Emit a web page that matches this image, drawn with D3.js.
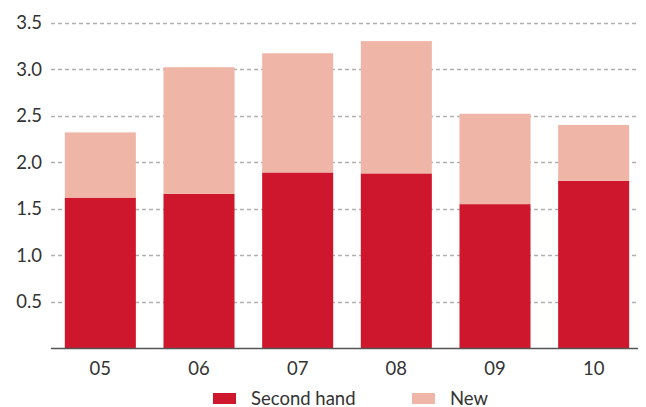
<!DOCTYPE html>
<html>
<head>
<meta charset="utf-8">
<script src="https://cdn.jsdelivr.net/npm/d3@7"></script>
<style>
  body { margin: 0; background: #fff; }
  svg text { font-family: "Lato", "DejaVu Sans", sans-serif; fill: #333; }
</style>
</head>
<body>
<script>
'use strict';

// chart data
const years = ["05", "06", "07", "08", "09", "10"];
const secondHand = [1.62, 1.66, 1.89, 1.88, 1.55, 1.80];
const newCars = [0.70, 1.36, 1.28, 1.42, 0.97, 0.60];
const yTicks = [0.5, 1.0, 1.5, 2.0, 2.5, 3.0, 3.5];
const seriesNames = ["Second hand", "New"];
const seriesColors = ["#ce172d", "#efb5a6"];

const width = 646, height = 407;

const svg = d3.select("body")
  .append("svg")
  .attr("width", width)
  .attr("height", height);

// scales
const x = d3.scaleBand()
  .domain(years)
  .range([51, 643])
  .paddingInner(0.28)
  .paddingOuter(0.14);

const y = d3.scaleLinear()
  .domain([0, 3.5])
  .range([348.5, 22.5]);

// dashed grid
svg.append("g")
  .selectAll("line")
  .data(yTicks)
  .enter()
  .append("line")
  .attr("x1", 51)
  .attr("x2", 638)
  .attr("y1", d => Math.round(y(d)) + 0.5)
  .attr("y2", d => Math.round(y(d)) + 0.5)
  .attr("stroke", "#b0b0b0")
  .attr("stroke-width", 1.3)
  .attr("stroke-dasharray", "4,3");

// y labels
svg.append("g")
  .selectAll("text")
  .data(yTicks)
  .enter()
  .append("text")
  .attr("x", 42)
  .attr("y", d => y(d) + 6.5)
  .attr("text-anchor", "end")
  .style("font-size", "18.5px")
  .text(d => d.toFixed(1));

// stacked bars
const rows = years.map((yr, i) => ({ year: yr, second: secondHand[i], neu: newCars[i] }));
const stack = d3.stack().keys(["second", "neu"])(rows);

svg.append("g")
  .selectAll("g")
  .data(stack)
  .enter()
  .append("g")
  .attr("fill", (d, i) => seriesColors[i])
  .selectAll("rect")
  .data(d => d)
  .enter()
  .append("rect")
  .attr("x", d => x(d.data.year))
  .attr("width", x.bandwidth())
  .attr("y", d => y(d[1]))
  .attr("height", d => y(d[0]) - y(d[1]));

// x axis line
svg.append("line")
  .attr("x1", 51)
  .attr("x2", 638)
  .attr("y1", 348.5)
  .attr("y2", 348.5)
  .attr("stroke", "#555")
  .attr("stroke-width", 1.5);

// x labels
svg.append("g")
  .selectAll("text")
  .data(years)
  .enter()
  .append("text")
  .attr("x", d => x(d) + x.bandwidth() / 2)
  .attr("y", 375)
  .attr("text-anchor", "middle")
  .style("font-size", "18.5px")
  .text(d => d);

// legend
const legendX = [213, 412];
const legend = svg.append("g")
  .selectAll("g")
  .data(seriesNames)
  .enter()
  .append("g")
  .attr("transform", (d, i) => "translate(" + legendX[i] + ",393)");

legend.append("rect")
  .attr("width", 23)
  .attr("height", 11)
  .attr("fill", (d, i) => seriesColors[i]);

legend.append("text")
  .attr("x", 38)
  .attr("y", 11.5)
  .style("font-size", "18.5px")
  .text(d => d);
</script>
</body>
</html>
